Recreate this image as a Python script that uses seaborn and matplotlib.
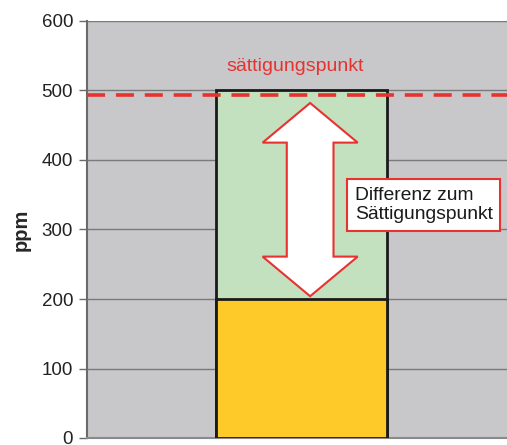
import matplotlib
matplotlib.use("Agg")
import matplotlib.pyplot as plt
import matplotlib.patches as mpatches
import seaborn as sns
import pandas as pd

# values
categories = ["Probe"]
gesamt_ppm = [500]
basis_ppm = [200]
saettigung_ppm = 493
y_ticks = [0, 100, 200, 300, 400, 500, 600]

df = pd.DataFrame({"kategorie": categories, "gesamt": gesamt_ppm, "basis": basis_ppm})

sns.set_style("white")
plt.rcParams["font.family"] = ["Liberation Sans", "DejaVu Sans"]

fig = plt.figure(figsize=(5.07, 4.45), dpi=100)
ax = fig.add_axes([87 / 507, 7 / 445, 420 / 507, 417 / 445])
ax.set_facecolor("#c8c8ca")

# stacked bar: green total, yellow base on top
sns.barplot(data=df, x="kategorie", y="gesamt", color="#c3e0bf", width=0.41,
            edgecolor="#1a1a1a", linewidth=2, saturation=1, ax=ax, zorder=3)
sns.barplot(data=df, x="kategorie", y="basis", color="#fdca2a", width=0.41,
            edgecolor="#1a1a1a", linewidth=2, saturation=1, ax=ax, zorder=3)

ax.set_xlim(-0.515, 0.492)
ax.set_ylim(0, 600)
ax.set_yticks(y_ticks)
ax.yaxis.grid(True, color="#7a7a7a", linewidth=1)
ax.set_axisbelow(True)
ax.set_xticks([])
ax.set_xlabel("")
ax.set_ylabel("ppm", fontsize=14.5, fontweight="bold", labelpad=8)
ax.tick_params(axis="y", labelsize=13.5, length=6, width=1, color="#6a6a6a",
               left=True, pad=4, labelcolor="#222222")

for side in ["top", "right"]:
    ax.spines[side].set_visible(False)
ax.spines["left"].set_color("#6a6a6a")
ax.spines["left"].set_linewidth(1.5)
ax.spines["bottom"].set_color("#8a8a8a")
ax.spines["bottom"].set_linewidth(1.5)

# saturation line
ax.axhline(saettigung_ppm, color="#e8322f", linewidth=2.6, dashes=(5, 3), zorder=5)
ax.text(-0.18, 535, "sättigungspunkt", color="#e8322f", fontsize=14,
        va="center", ha="left", zorder=6)

# double arrow between base and saturation
cx = 0.02
shaft = 0.056
head = 0.114
head_len = 57
y_lo = basis_ppm[0] + 4
y_hi = saettigung_ppm - 11
arrow_pts = [
    (cx, y_hi),
    (cx + head, y_hi - head_len),
    (cx + shaft, y_hi - head_len),
    (cx + shaft, y_lo + head_len),
    (cx + head, y_lo + head_len),
    (cx, y_lo),
    (cx - head, y_lo + head_len),
    (cx - shaft, y_lo + head_len),
    (cx - shaft, y_hi - head_len),
    (cx - head, y_hi - head_len),
]
ax.add_patch(mpatches.Polygon(arrow_pts, closed=True, facecolor="white",
                              edgecolor="#e8322f", linewidth=1.5, zorder=6))

ax.text(0.127, 335, "Differenz zum\nSättigungspunkt", fontsize=13.9, color="#1a1a1a",
        va="center", ha="left", linespacing=1.15, zorder=7,
        bbox=dict(boxstyle="square,pad=0.4", facecolor="white",
                  edgecolor="#e8322f", linewidth=1.5))

fig.savefig("out.png", dpi=100)
